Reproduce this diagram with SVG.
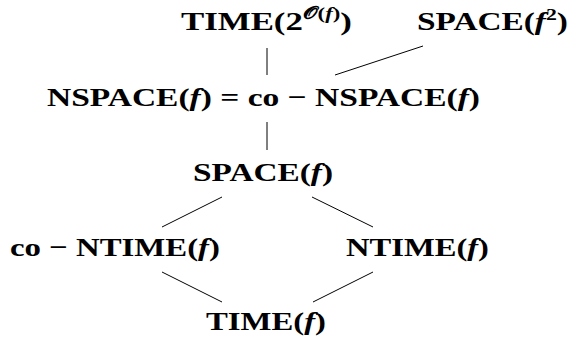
<svg xmlns="http://www.w3.org/2000/svg" width="570" height="340" viewBox="0 0 570 340">
<style>
.lbl { font-family: "Liberation Serif", "DejaVu Serif", serif; font-weight: bold; font-size: 26px; fill: #000; }
.it { font-style: italic; }
.sup { font-size: 17px; }
.edge { stroke: #000; stroke-width: 1; fill: none; }
</style>
<rect width="570" height="340" fill="#fff"/>
<g id="connectors">
<line class="edge" x1="267" y1="48" x2="267" y2="75"/>
<line class="edge" x1="423" y1="46" x2="335" y2="75"/>
<line class="edge" x1="267" y1="122" x2="267" y2="150"/>
<line class="edge" x1="222" y1="197" x2="162" y2="227"/>
<line class="edge" x1="312" y1="197" x2="373" y2="227"/>
<line class="edge" x1="162" y1="272" x2="222" y2="302"/>
<line class="edge" x1="373" y1="272" x2="313" y2="302"/>
</g>
<g id="time-exp">
<text class="lbl" x="181" y="30" textLength="171" lengthAdjust="spacingAndGlyphs">TIME(2<tspan class="sup" dy="-11">𝒪(<tspan class="it">f</tspan>)</tspan><tspan dy="11">)</tspan></text>
</g>
<g id="space-f2">
<text class="lbl" x="417" y="30" textLength="151" lengthAdjust="spacingAndGlyphs">SPACE(<tspan class="it">f</tspan><tspan class="sup" dy="-10">2</tspan><tspan dy="10">)</tspan></text>
</g>
<g id="nspace">
<text class="lbl" x="47" y="106" textLength="433" lengthAdjust="spacingAndGlyphs">NSPACE(<tspan class="it">f</tspan>) = co − NSPACE(<tspan class="it">f</tspan>)</text>
</g>
<g id="space-f">
<text class="lbl" x="193" y="181" textLength="140" lengthAdjust="spacingAndGlyphs">SPACE(<tspan class="it">f</tspan>)</text>
</g>
<g id="co-ntime">
<text class="lbl" x="10" y="256" textLength="210" lengthAdjust="spacingAndGlyphs">co − NTIME(<tspan class="it">f</tspan>)</text>
</g>
<g id="ntime">
<text class="lbl" x="346" y="256" textLength="143" lengthAdjust="spacingAndGlyphs">NTIME(<tspan class="it">f</tspan>)</text>
</g>
<g id="time-f">
<text class="lbl" x="206" y="330" textLength="120" lengthAdjust="spacingAndGlyphs">TIME(<tspan class="it">f</tspan>)</text>
</g>
</svg>
